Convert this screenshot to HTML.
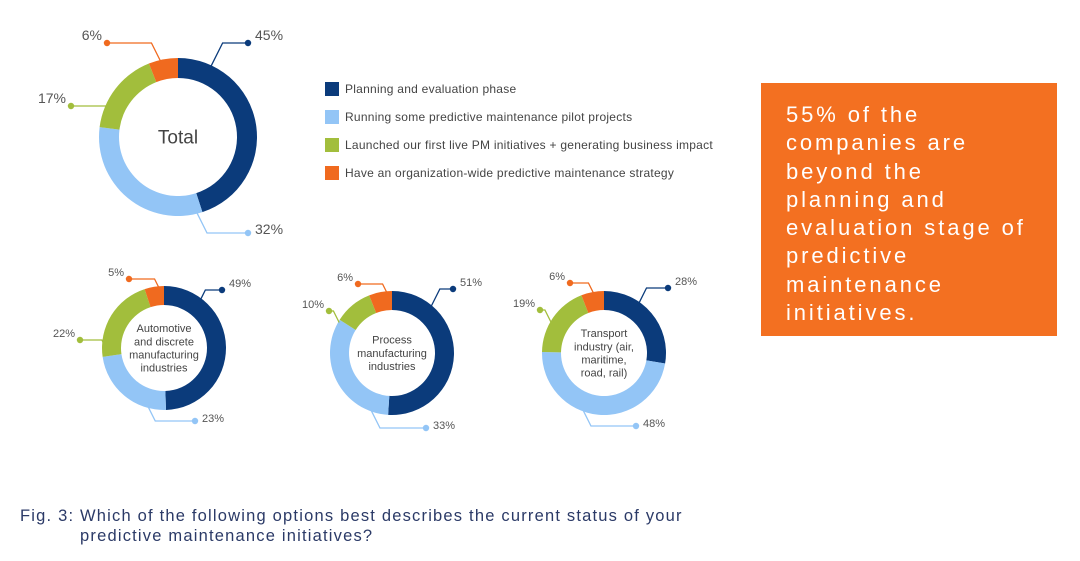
<!DOCTYPE html>
<html><head><meta charset="utf-8">
<style>
body{margin:0;width:1080px;height:561px;background:#fff;font-family:"Liberation Sans",sans-serif;overflow:hidden;position:relative}
svg{position:absolute;left:0;top:0}
.box{position:absolute;left:761px;top:83px;width:296px;height:253px;background:#f37021;color:#fff;font-size:22px;line-height:28.3px;letter-spacing:2.9px;box-sizing:border-box;padding:18px 0 0 25px;white-space:nowrap}
.cap{position:absolute;left:20px;top:506px;font-size:16.5px;color:#2b3a67;line-height:20px;letter-spacing:1.2px;white-space:nowrap}
.cap span{position:absolute;left:60px;top:0}
</style></head><body>
<svg id="chart" width="1080" height="561"></svg>
<div class="box">55% of the<br>companies are<br>beyond the<br>planning and<br>evaluation stage of<br>predictive<br>maintenance<br>initiatives.</div>
<div class="cap">Fig. 3:<span>Which of the following options best describes the current status of your<br>predictive maintenance initiatives?</span></div>
<script>
const categories=["Planning and evaluation phase","Running some predictive maintenance pilot projects","Launched our first live PM initiatives +  generating business impact","Have an organization-wide predictive maintenance strategy"];
const colors=["#0b3b7b","#93c5f6","#a2be3c","#f06a1f"];
const chartNames=["Total","Automotive and discrete manufacturing industries","Process manufacturing industries","Transport industry (air, maritime, road, rail)"];
const totalValues=[45,32,17,6];
const autoValues=[49,23,22,5];
const processValues=[51,33,10,6];
const transportValues=[28,48,19,6];
const allValues=[totalValues,autoValues,processValues,transportValues];
const layouts=[
 {cx:178,cy:137,r:79,t:20,fs:19,lines:["Total"],labels:[[248,43],[248,233],[71,106],[107,43]],anch:[25,166,293,347]},
 {cx:164,cy:348,r:62,t:19,fs:11,lines:["Automotive","and discrete","manufacturing","industries"],labels:[[222,290],[195,421],[80,340],[129,279]],anch:[37,195,275,355]},
 {cx:392,cy:353,r:62,t:19,fs:11,lines:["Process","manufacturing","industries"],labels:[[453,289],[426,428],[329,311],[358,284]],anch:[40,200,300,355]},
 {cx:604,cy:353,r:62,t:19,fs:11,lines:["Transport","industry (air,","maritime,","road, rail)"],labels:[[668,288],[636,426],[540,310],[570,283]],anch:[35,200,300,350]}
];
const svg=document.getElementById('chart');
const NS="http://www.w3.org/2000/svg";
function mk(t,a){const e=document.createElementNS(NS,t);for(const k in a)e.setAttribute(k,a[k]);svg.appendChild(e);return e;}
function pt(cx,cy,r,a){return [cx+r*Math.sin(a),cy-r*Math.cos(a)];}
allValues.forEach((vals,ci)=>{
 const L=layouts[ci];const sum=vals.reduce((a,b)=>a+b,0);let acc=0;
 const ri=L.r-L.t;
 vals.forEach((v,i)=>{
  const a0=acc/sum*2*Math.PI;acc+=v;const a1=acc/sum*2*Math.PI;
  const big=(a1-a0)>Math.PI?1:0;
  const p0=pt(L.cx,L.cy,L.r,a0),p1=pt(L.cx,L.cy,L.r,a1),q1=pt(L.cx,L.cy,ri,a1),q0=pt(L.cx,L.cy,ri,a0);
  const p=mk('path',{d:`M${p0}A${L.r},${L.r} 0 ${big} 1 ${p1}L${q1}A${ri},${ri} 0 ${big} 0 ${q0}Z`,fill:colors[i]});
  
  
  const e=pt(L.cx,L.cy,L.r-1,L.anch[i]*Math.PI/180);
  const [dx,dy]=L.labels[i];const right=dx>e[0];
  const knee=[e[0]+(right?1:-1)*Math.min(Math.abs(dy-e[1])*0.5,12),dy];
  const ln=mk('polyline',{points:`${e} ${knee} ${dx},${dy}`,fill:'none',stroke:colors[i],'stroke-width':1.3});
  
  
  mk('circle',{cx:dx,cy:dy,r:3.2,fill:colors[i]});
  const fs=ci==0?14:11;
  const tx=mk('text',{x:dx>L.cx?dx+7:dx-5,y:dy-(i==1?-1:3),'font-size':fs,fill:'#555','text-anchor':dx>L.cx?'start':'end'});
  tx.textContent=v+'%';
  
  
 });
 const n=L.lines.length;const lh=L.fs*1.2;
 L.lines.forEach((s,k)=>{
  const t=mk('text',{x:L.cx,y:L.cy+(k-(n-1)/2)*lh+L.fs*0.35,'font-size':L.fs,fill:'#444','text-anchor':'middle'});
  t.textContent=s;
  
  
 });
});
categories.forEach((c,i)=>{
 const y=82+i*28;
 const r=mk('rect',{x:325,y:y,width:14,height:14,fill:colors[i]});
 
 
 const t=mk('text',{x:345,y:y+11,'font-size':12,'letter-spacing':0.25,fill:'#444'});
 t.textContent=c;
 
 
});
</script>
</body></html>
